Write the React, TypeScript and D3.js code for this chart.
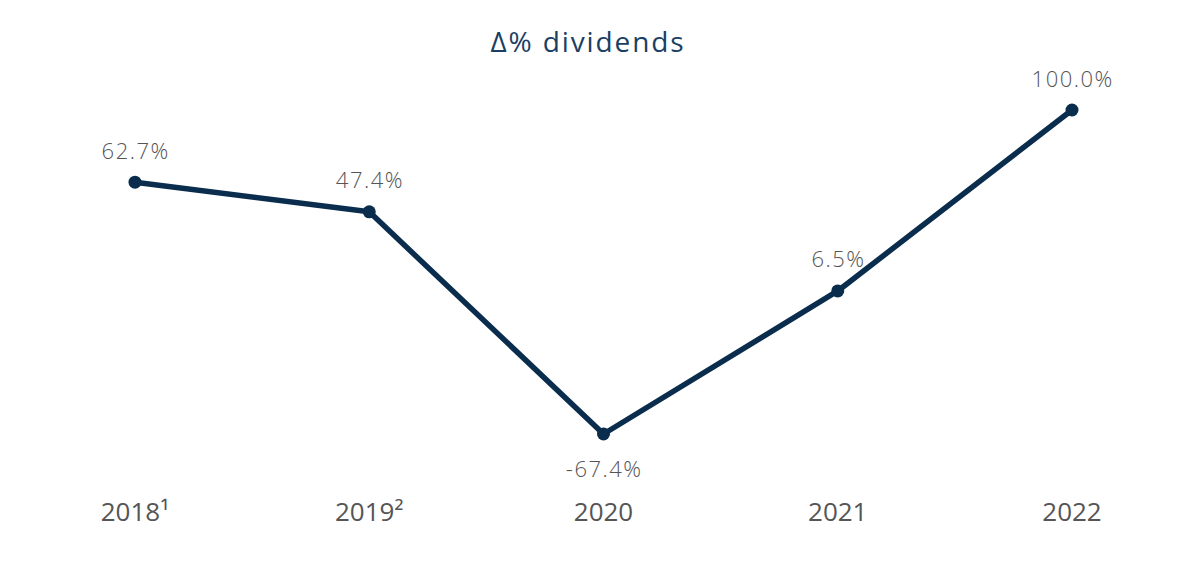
import React from "react";
import * as d3 from "d3";

const categories = ["2018¹", "2019²", "2020", "2021", "2022"];
const values = [62.7, 47.4, -67.4, 6.5, 100.0];
const valueLabels = ["62.7%", "47.4%", "-67.4%", "6.5%", "100.0%"];
const title = "Δ% dividends";

const W = 1183;
const H = 577;

export default function App() {
  const x = d3.scalePoint<string>().domain(categories).range([135, 1072]);
  const y = d3.scaleLinear().domain([-67.4, 100]).range([434, 110]);
  const line = d3
    .line<number>()
    .x((_, i) => x(categories[i]) as number)
    .y((d) => y(d));

  return (
    <svg
      width={W}
      height={H}
      style={{ position: "absolute", left: 0, top: 0, background: "#fff" }}
      fontFamily="'Open Sans', sans-serif"
    >
      <text x={588} y={52} textAnchor="middle" fontSize={28} fill="#1b3f63" letterSpacing={1.9}>
        {title}
      </text>
      <path d={line(values) || ""} fill="none" stroke="#0b2d4d" strokeWidth={5.5} strokeLinejoin="round" />
      {values.map((v, i) => (
        <circle key={i} cx={x(categories[i])} cy={y(v)} r={6.5} fill="#0b2d4d" />
      ))}
      {values.map((v, i) => (
        <text
          key={"l" + i}
          x={(x(categories[i]) as number) + 0.7}
          y={v < 0 ? y(v) + 43 : y(v) - 23.5}
          textAnchor="middle"
          fontSize={22}
          fontWeight={300}
          letterSpacing={1.5}
          fill="#555"
        >
          {valueLabels[i]}
        </text>
      ))}
      {categories.map((c, i) => (
        <text
          key={"c" + i}
          x={x(c)}
          y={521}
          textAnchor="middle"
          fontSize={26}
          fill="#555"
        >
          {c}
        </text>
      ))}
    </svg>
  );
}
